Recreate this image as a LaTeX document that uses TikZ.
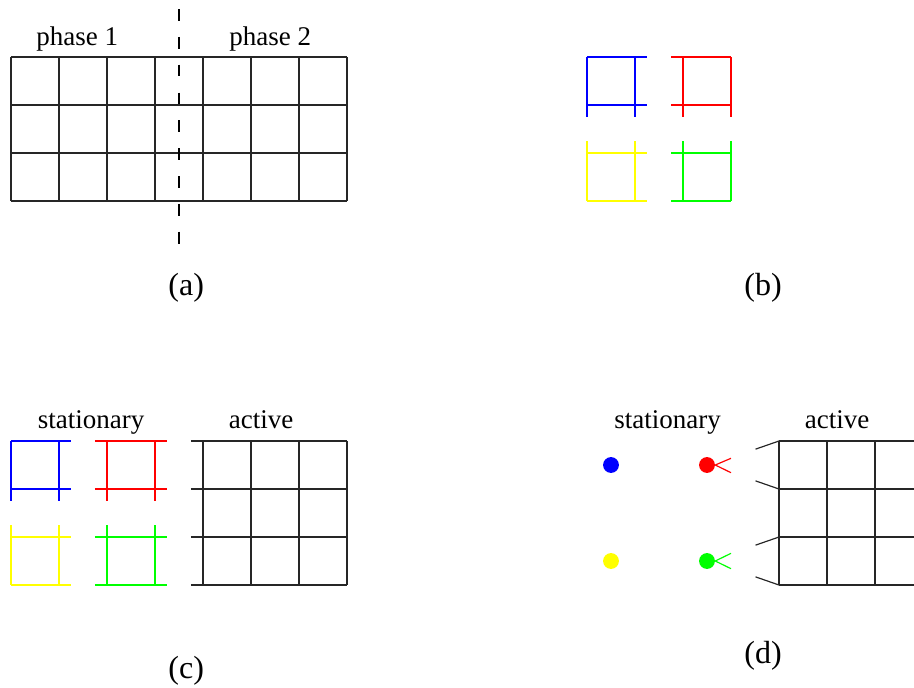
\documentclass[tikz,border=0pt]{standalone}
\usepackage{fontspec}
\setmainfont{Liberation Serif}
\usetikzlibrary{positioning}
\definecolor{pblue}{RGB}{0,0,255}
\definecolor{pred}{RGB}{255,0,0}
\definecolor{pyellow}{RGB}{255,255,0}
\definecolor{pgreen}{RGB}{0,255,0}

\begin{document}
\begin{tikzpicture}[
  gridline/.style={line width=0.7pt, black!85},
  part/.style={line width=0.7pt},
  cutline/.style={line width=1.3pt, dash pattern=on 7pt off 9.5pt},
  lbl/.style={anchor=base, inner sep=0pt, font=\fontsize{16}{19}\selectfont},
  sublbl/.style={anchor=base, inner sep=0pt, font=\fontsize{19}{23}\selectfont},
  dot/.style={circle, inner sep=0pt, minimum size=3.3mm}]
  \useasboundingbox (-0.229,1.1875) rectangle (18.8125,-13.125);

  % (a) two phases
  \draw[gridline] (0,0) grid (7,-3);
  \coordinate (cuttop) at (3.5,1);
  \coordinate (cutbot) at (3.5,-4);
  \draw[cutline] (cuttop) -- (cutbot);
  \node[lbl] (ph1) at (1.38,0.25) {phase 1};
  \node[lbl] (ph2) at (5.4,0.25) {phase 2};
  \node[sublbl] (capa) at (3.65,-4.96) {(a)};

  % (b) four pieces
  \foreach \y in {0,-1} {
    \draw[part, pblue] (12,\y) -- (13.25,\y);
    \draw[part, pred] (13.75,\y) -- (15,\y);
  }
  \foreach \x in {12,13} \draw[part, pblue] (\x,0) -- (\x,-1.25);
  \foreach \x in {14,15} \draw[part, pred] (\x,0) -- (\x,-1.25);
  \foreach \y in {-2,-3} {
    \draw[part, pyellow] (12,\y) -- (13.25,\y);
    \draw[part, pgreen] (13.75,\y) -- (15,\y);
  }
  \foreach \x in {12,13} \draw[part, pyellow] (\x,-1.75) -- (\x,-3);
  \foreach \x in {14,15} \draw[part, pgreen] (\x,-1.75) -- (\x,-3);
  \node[sublbl] (capb) at (15.67,-4.96) {(b)};

  % (c) stationary pieces and active grid
  \foreach \y in {-8,-9} {
    \draw[part, pblue] (0,\y) -- (1.25,\y);
    \draw[part, pred] (1.75,\y) -- (3.25,\y);
  }
  \foreach \x in {0,1} \draw[part, pblue] (\x,-8) -- (\x,-9.25);
  \foreach \x in {2,3} \draw[part, pred] (\x,-8) -- (\x,-9.25);
  \foreach \y in {-10,-11} {
    \draw[part, pyellow] (0,\y) -- (1.25,\y);
    \draw[part, pgreen] (1.75,\y) -- (3.25,\y);
  }
  \foreach \x in {0,1} \draw[part, pyellow] (\x,-9.75) -- (\x,-11);
  \foreach \x in {2,3} \draw[part, pgreen] (\x,-9.75) -- (\x,-11);
  \draw[gridline] (4,-8) grid (7,-11);
  \foreach \y in {-8,...,-11} \draw[gridline] (3.75,\y) -- (4,\y);
  \node[lbl] (statc) at (1.67,-7.73) {stationary};
  \node[lbl] (actc) at (5.21,-7.73) {active};
  \node[sublbl] (capc) at (3.65,-12.95) {(c)};

  % (d) pieces as points
  \node[dot, fill=pblue] (bdot) at (12.5,-8.5) {};
  \node[dot, fill=pred] (rdot) at (14.5,-8.5) {};
  \node[dot, fill=pyellow] (ydot) at (12.5,-10.5) {};
  \node[dot, fill=pgreen] (gdot) at (14.5,-10.5) {};
  \coordinate (rup) at (15,-8.36);
  \coordinate (rdn) at (15,-8.66);
  \coordinate (gup) at (15,-10.34);
  \coordinate (gdn) at (15,-10.66);
  \draw[part, pred] (rup) -- (rdot.east) -- (rdn);
  \draw[part, pgreen] (gup) -- (gdot.east) -- (gdn);
  \foreach \y in {-8,...,-11} \draw[gridline] (16,\y) -- (18.8125,\y);
  \foreach \x in {16,17,18} \draw[gridline] (\x,-8) -- (\x,-11);
  \draw[gridline] (16,-8) -- (15.51,-8.17);
  \draw[gridline] (16,-9) -- (15.51,-8.83);
  \draw[gridline] (16,-10) -- (15.51,-10.17);
  \draw[gridline] (16,-11) -- (15.51,-10.83);
  \node[lbl] (statd) at (13.68,-7.73) {stationary};
  \node[lbl] (actd) at (17.21,-7.73) {active};
  \node[sublbl] (capd) at (15.67,-12.625) {(d)};
\end{tikzpicture}
\end{document}
